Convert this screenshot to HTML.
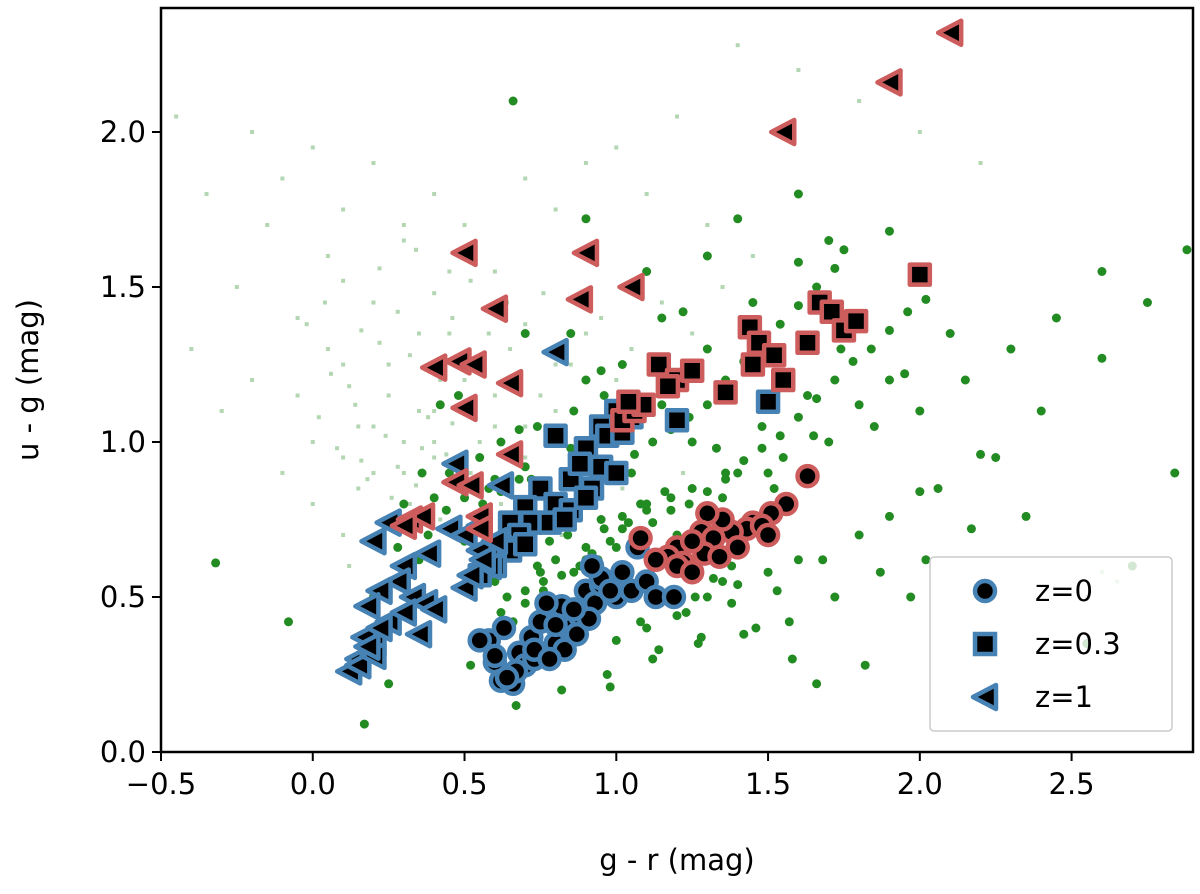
<!DOCTYPE html>
<html><head><meta charset="utf-8"><style>
body{margin:0;background:#fff;}
svg text{font-family:"DejaVu Sans","Liberation Sans",sans-serif;}
</style></head><body>
<svg id="chart" width="1200" height="889" xmlns="http://www.w3.org/2000/svg">
<g id="faint"></g>
<g id="green"></g>
<g id="series"></g>
<rect x="161" y="8" width="1032" height="744" fill="none" stroke="#000" stroke-width="2.5"/>
<g id="axes"></g>
<text x="677" y="870" font-size="29" text-anchor="middle">g - r (mag)</text>
<text transform="translate(38,380) rotate(-90)" font-size="29" text-anchor="middle">u - g (mag)</text>
<g>
<rect x="930" y="557" width="242" height="174" rx="4" fill="#fff" fill-opacity="0.8" stroke="#ccc" stroke-width="1.5"/>
<g><circle cx="985" cy="591" r="10" fill="#000" stroke="#4682b4" stroke-width="4.5"/><text x="1035" y="601" font-size="29">z=0</text></g>
<g><rect x="975" y="634" width="20" height="20" fill="#000" stroke="#4682b4" stroke-width="4.5"/><text x="1035" y="654" font-size="29">z=0.3</text></g>
<g><polygon points="973,697 996,685 996,709" fill="#000" stroke="#4682b4" stroke-width="4.5" stroke-linejoin="round"/><text x="1035" y="707" font-size="29">z=1</text></g>
</g>
</svg>
<script>
const xTicks=[-0.5,0,0.5,1,1.5,2,2.5];
const xTickLabels=["\u22120.5","0.0","0.5","1.0","1.5","2.0","2.5"];
const yTicks=[0,0.5,1,1.5,2];
const yTickLabels=["0.0","0.5","1.0","1.5","2.0"];
const redTriX=[2.1,1.9,1.55,0.5,0.9,1.05,0.88,0.6,0.4,0.48,0.53,0.65,0.5,0.65,0.47,0.52,0.55,0.32,0.36,0.3,0.55];
const redTriY=[2.32,2.16,2.0,1.61,1.61,1.5,1.46,1.43,1.24,1.26,1.25,1.19,1.11,0.96,0.87,0.86,0.76,0.75,0.76,0.73,0.72];
const redSqX=[2.0,1.67,1.71,1.75,1.79,1.44,1.47,1.45,1.52,1.63,1.55,1.14,1.2,1.25,1.17,1.36,1.02,1.06,1.09,1.04];
const redSqY=[1.54,1.45,1.42,1.36,1.39,1.37,1.32,1.25,1.28,1.32,1.2,1.25,1.2,1.23,1.18,1.16,1.07,1.1,1.12,1.13];
const redCirX=[1.63,1.56,1.51,1.45,1.43,1.38,1.35,1.3,1.28,1.32,1.29,1.34,1.2,1.25,1.22,1.17,1.08,1.13,1.2,1.25,1.4,1.48,1.5];
const redCirY=[0.89,0.8,0.77,0.74,0.72,0.71,0.75,0.77,0.71,0.69,0.64,0.63,0.66,0.68,0.61,0.63,0.69,0.62,0.6,0.58,0.66,0.73,0.7];
const blueTriX=[0.8,0.47,0.62,0.2,0.25,0.3,0.38,0.45,0.5,0.55,0.58,0.28,0.33,0.37,0.22,0.18,0.25,0.3,0.35,0.2,0.15,0.17,0.22,0.12,0.15,0.2,0.18,0.4,0.5,0.52,0.56,0.6,0.55];
const blueTriY=[1.29,0.93,0.86,0.68,0.74,0.6,0.64,0.72,0.7,0.65,0.6,0.55,0.5,0.48,0.52,0.47,0.42,0.45,0.38,0.35,0.3,0.37,0.4,0.26,0.28,0.31,0.34,0.46,0.53,0.57,0.62,0.68,0.73];
const blueSqX=[1.0,0.95,1.05,1.2,0.8,0.9,0.95,1.0,0.85,0.88,0.92,0.75,0.8,0.85,0.9,0.7,0.72,0.78,0.65,0.68,0.62,0.65,0.7,0.58,0.6,0.55,1.5,0.97,1.02,0.83];
const blueSqY=[1.1,1.05,1.08,1.07,1.02,0.98,0.92,0.9,0.88,0.93,0.85,0.85,0.8,0.78,0.82,0.79,0.74,0.74,0.74,0.7,0.66,0.65,0.67,0.63,0.6,0.57,1.13,1.02,1.03,0.75];
const blueCirX=[0.58,0.6,0.62,0.66,0.68,0.72,0.75,0.8,0.82,0.85,0.88,0.9,0.93,0.95,1.0,1.02,1.05,1.1,1.13,1.19,0.7,0.73,0.77,0.83,0.87,0.91,0.95,0.98,0.63,0.67,0.73,0.78,0.86,1.07,0.6,0.64,0.8,0.55,0.92];
const blueCirY=[0.36,0.29,0.23,0.22,0.32,0.37,0.42,0.35,0.47,0.4,0.44,0.52,0.48,0.54,0.5,0.58,0.52,0.55,0.5,0.5,0.28,0.3,0.48,0.33,0.38,0.43,0.56,0.52,0.4,0.26,0.33,0.3,0.46,0.66,0.31,0.24,0.41,0.36,0.6];
const greenX=[-0.32,-0.08,0.2,0.35,0.5,0.65,0.8,0.95,1.1,1.25,1.4,1.55,1.7,1.85,2.0,2.15,2.3,2.45,2.6,2.75,2.88,0.6,0.75,0.9,1.05,1.2,1.35,1.5,1.65,1.8,1.95,2.1,0.45,0.55,0.7,0.85,1.0,1.15,1.3,1.45,1.6,1.75,1.9,0.3,0.4,0.58,0.72,0.88,1.02,1.18,1.33,1.48,1.63,1.78,0.62,0.78,0.93,1.08,1.23,1.38,1.53,1.68,0.67,0.82,0.97,1.12,1.27,1.42,1.57,1.72,1.87,2.02,2.17,2.35,2.55,1.3,1.4,1.1,0.9,1.6,1.7,0.17,0.25,0.52,0.68,0.98,1.14,1.28,1.46,1.58,1.66,1.82,1.97,2.25,2.7,2.84,0.66,1.22,1.9,2.4,0.85,1.35,1.05,0.48,0.74,1.52,1.74,2.06,2.6,0.95,1.15,1.25,1.36,0.82,0.7,0.6,0.42,0.36,
0.78,0.84,0.9,0.96,1.02,1.08,0.74,0.8,0.86,0.92,0.98,1.04,1.1,1.16,0.7,0.76,0.82,0.88,0.94,1.0,1.06,1.12,1.18,1.24,1.3,1.36,1.42,1.48,1.54,1.6,1.66,1.72,1.78,1.84,1.9,1.96,2.02,1.0,1.06,1.12,1.18,1.24,1.3,1.36,1.42,1.48,1.54,1.6,1.66,1.72,0.56,0.62,0.68,0.44,0.5,0.38,0.34,0.28,0.64,0.7,0.76,0.66,0.72,1.0,1.1,1.2,1.3,1.4,1.5,1.6,1.8,1.9,2.0,2.2,1.26,1.32,1.38,0.62,0.68,0.9,0.96,1.02,0.86];
const greenY=[0.61,0.42,0.5,0.62,0.68,0.7,0.72,0.75,0.8,0.85,0.9,0.95,1.0,1.05,1.1,1.2,1.3,1.4,1.55,1.45,1.62,0.55,0.58,0.62,0.65,0.7,0.82,0.9,1.02,1.12,1.22,1.35,0.9,0.95,0.92,0.98,1.05,1.12,1.3,1.45,1.58,1.62,1.68,0.8,0.82,0.85,0.88,0.95,0.72,0.82,0.98,1.05,1.15,1.38,0.45,0.45,0.55,0.42,0.45,0.48,0.52,0.62,0.15,0.2,0.25,0.3,0.35,0.38,0.42,0.5,0.58,0.62,0.72,0.76,0.35,1.6,1.72,1.55,1.72,1.8,1.65,0.09,0.22,0.28,0.27,0.21,0.33,0.37,0.4,0.3,0.22,0.28,0.5,0.95,0.6,0.9,2.1,1.42,1.2,1.1,1.35,0.55,0.9,1.15,1.05,0.85,1.3,0.85,1.27,1.23,1.4,1.0,0.9,1.3,1.35,0.88,1.12,0.9,
0.68,0.7,0.66,0.72,0.76,0.8,0.6,0.62,0.58,0.64,0.68,0.74,0.78,0.84,0.52,0.55,0.57,0.6,0.62,0.66,0.7,0.74,0.78,0.8,0.84,0.88,0.94,0.98,1.02,1.08,1.14,1.2,1.26,1.3,1.36,1.42,1.46,0.92,0.96,1.0,1.04,1.08,1.12,1.2,1.26,1.32,1.38,1.44,1.5,1.56,0.8,0.84,0.88,0.78,0.82,0.7,0.76,0.66,0.5,0.48,0.52,0.42,0.38,0.36,0.4,0.44,0.5,0.54,0.58,0.62,0.7,0.76,0.84,0.96,0.5,0.56,0.6,1.0,1.04,1.2,1.15,1.25,1.1];
const faintX=[-0.45,-0.4,-0.35,-0.3,-0.25,-0.2,-0.15,-0.1,-0.05,0.0,0.05,0.1,0.15,0.2,0.25,0.3,0.35,0.4,0.45,-0.2,-0.1,0.0,0.1,0.2,0.3,0.4,0.5,0.6,0.7,0.8,0.9,1.0,1.1,1.2,1.3,-0.05,0.05,0.15,0.25,0.35,0.45,0.55,0.65,0.75,0.85,0.95,1.05,1.15,1.25,1.35,1.45,0.1,0.2,0.3,0.4,0.5,0.6,0.7,0.8,0.9,1.0,1.1,0.12,0.22,0.32,0.42,0.52,0.62,0.72,0.82,0.92,1.02,1.12,1.22,0.0,0.1,0.2,0.3,0.4,0.5,0.6,0.7,0.8,0.9,2.6,2.65,2.55,1.4,1.6,1.8,2.0,2.2,
0.02,0.08,0.14,0.18,0.24,0.28,0.34,0.38,0.44,0.06,0.12,0.16,0.22,0.26,0.32,0.36,0.42,0.46,-0.02,0.04,0.1,0.16,0.22,0.28,0.34,0.4,0.46,0.52,0.58,0.64,0.7,0.76];
const faintY=[2.05,1.3,1.8,1.1,1.5,1.2,1.7,0.9,1.4,1.0,1.6,1.25,0.85,1.45,1.15,1.7,1.35,0.95,1.55,2.0,1.85,1.95,1.75,1.9,1.65,1.8,1.7,1.55,1.85,1.75,1.9,1.95,1.8,2.05,1.7,1.15,1.3,1.05,1.25,1.1,1.35,1.0,1.3,1.15,1.25,1.4,1.3,1.45,1.35,1.5,1.6,0.95,1.05,0.9,1.0,0.85,1.05,0.95,1.1,0.9,1.2,1.15,0.6,0.7,0.8,0.75,0.9,0.8,0.85,0.7,0.95,0.85,1.0,0.9,0.8,0.7,0.9,1.0,1.1,1.2,1.15,1.05,1.25,1.35,0.58,0.55,0.5,2.28,2.2,2.1,2.0,1.9,
1.08,0.98,1.12,0.88,1.02,0.92,0.86,1.08,0.96,1.22,1.18,0.94,1.32,0.82,1.28,0.98,1.2,1.06,1.38,1.45,1.52,1.36,1.56,1.42,1.62,1.48,1.4,1.52,1.35,1.45,1.38,1.48];
const X0=161,X1=1193,Y0=752,Y1=8,xmin=-0.5,xmax=2.9,ymin=0,ymax=2.4;
function sx(v){return X0+(v-xmin)/(xmax-xmin)*(X1-X0);}
function sy(v){return Y0-(v-ymin)/(ymax-ymin)*(Y0-Y1);}
const NS="http://www.w3.org/2000/svg";
function mk(tag,attrs,parent){const e=document.createElementNS(NS,tag);for(const k in attrs)e.setAttribute(k,attrs[k]);parent.appendChild(e);return e;}
const axes=document.getElementById('axes');
xTicks.forEach((t,i)=>{const x=sx(t);
 const l=mk('line',{x1:x,x2:x,y1:Y0,y2:Y0+9,stroke:'#000','stroke-width':2},axes);
 
 
 const tx=mk('text',{x:x,y:Y0+42,'font-size':29,'text-anchor':'middle'},axes);tx.textContent=xTickLabels[i];
 
 });
yTicks.forEach((t,i)=>{const y=sy(t);
 const l=mk('line',{x1:X0-9,x2:X0,y1:y,y2:y,stroke:'#000','stroke-width':2},axes);
 
 
 const tx=mk('text',{x:X0-15,y:y+10,'font-size':29,'text-anchor':'end'},axes);tx.textContent=yTickLabels[i];
 
 });
const faint=document.getElementById('faint');
faintX.forEach((v,i)=>{const r=mk('rect',{x:sx(v)-2,y:sy(faintY[i])-2,width:4,height:4,fill:'#228b22','fill-opacity':0.35},faint);
 
 });
const green=document.getElementById('green');
greenX.forEach((v,i)=>{const c=mk('circle',{cx:sx(v),cy:sy(greenY[i]),r:4.5,fill:'#228b22'},green);
 
 });
const ser=document.getElementById('series');
function draw(xs,ys,shape,col,name){xs.forEach((v,i)=>{const x=sx(v),y=sy(ys[i]);let e;
 const st={fill:'#000',stroke:col,'stroke-width':4.5,'stroke-linejoin':'round'};
 if(shape==='c'){e=mk('circle',Object.assign({cx:x,cy:y,r:10},st),ser);}
 else if(shape==='s'){e=mk('rect',Object.assign({x:x-10,y:y-10,width:20,height:20},st),ser);}
 else{e=mk('polygon',Object.assign({points:`${x-12},${y} ${x+11},${y-12} ${x+11},${y+12}`},st),ser);}
 
 });}
const B='#4682b4',R='#cd5c5c';
draw(blueCirX,blueCirY,'c',B,'blue-circle-z0');
draw(blueSqX,blueSqY,'s',B,'blue-square-z03');
draw(blueTriX,blueTriY,'t',B,'blue-triangle-z1');
draw(redCirX,redCirY,'c',R,'red-circle-z0');
draw(redSqX,redSqY,'s',R,'red-square-z03');
draw(redTriX,redTriY,'t',R,'red-triangle-z1');
</script>
</body></html>
